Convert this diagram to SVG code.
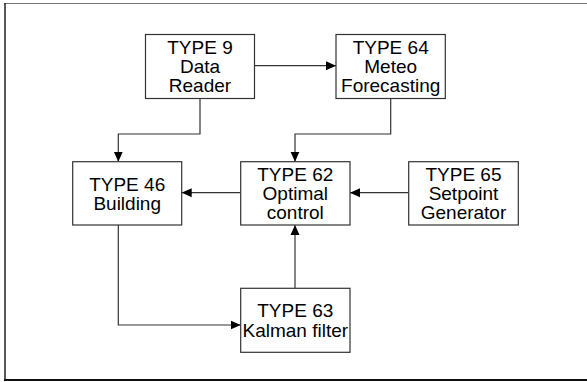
<svg xmlns="http://www.w3.org/2000/svg" width="587" height="382" viewBox="0 0 587 382">
<defs>
<style>
.box{fill:#fff;stroke:#333;stroke-width:1.2}
.lbl{font-family:"Liberation Sans",Arial,sans-serif;font-size:19px;fill:#000;text-anchor:middle}
.con{fill:none;stroke:#333;stroke-width:1.2}
</style>
<marker id="ah" markerUnits="userSpaceOnUse" markerWidth="10" markerHeight="10" viewBox="0 0 10 10" refX="10" refY="5" orient="auto">
<path d="M0,0.5 L10,5 L0,9.5 Z" fill="#000"/>
</marker>
</defs>
<rect x="0" y="0" width="587" height="382" fill="#fff"/>
<g id="frame">
<line x1="4" y1="3.5" x2="590" y2="3.5" stroke="#777" stroke-width="1.2"/>
<line x1="5" y1="3" x2="5" y2="380" stroke="#222" stroke-width="1.5"/>
<line x1="4" y1="380" x2="590" y2="380" stroke="#111" stroke-width="1.8"/>
</g>
<g id="connectors">
<line class="con" x1="254.7" y1="65.7" x2="336" y2="65.7" marker-end="url(#ah)"/>
<polyline class="con" points="200,98.3 200,134 118.3,134 118.3,161.7" marker-end="url(#ah)"/>
<polyline class="con" points="390.7,98.3 390.7,134 295,134 295,161.7" marker-end="url(#ah)"/>
<line class="con" x1="240.7" y1="192.7" x2="181.7" y2="192.7" marker-end="url(#ah)"/>
<line class="con" x1="408.7" y1="192.7" x2="350" y2="192.7" marker-end="url(#ah)"/>
<polyline class="con" points="118.3,225 118.3,325 240.7,325" marker-end="url(#ah)"/>
<line class="con" x1="295" y1="288.3" x2="295" y2="225" marker-end="url(#ah)"/>
</g>
<g id="type9">
<rect class="box" x="145.5" y="34.5" width="109" height="64"/>
<text class="lbl" x="200" y="54">TYPE 9</text>
<text class="lbl" x="200" y="73">Data</text>
<text class="lbl" x="200" y="92">Reader</text>
</g>
<g id="type64">
<rect class="box" x="336" y="34.5" width="109.3" height="64"/>
<text class="lbl" x="390.7" y="54">TYPE 64</text>
<text class="lbl" x="390.7" y="73">Meteo</text>
<text class="lbl" x="390.7" y="92">Forecasting</text>
</g>
<g id="type46">
<rect class="box" x="72.7" y="161.7" width="109" height="63.3"/>
<text class="lbl" x="127.2" y="190.5">TYPE 46</text>
<text class="lbl" x="127.2" y="209.5">Building</text>
</g>
<g id="type62">
<rect class="box" x="240.7" y="161.7" width="109.3" height="63.3"/>
<text class="lbl" x="295.3" y="181">TYPE 62</text>
<text class="lbl" x="295.3" y="200">Optimal</text>
<text class="lbl" x="295.3" y="219">control</text>
</g>
<g id="type65">
<rect class="box" x="408.7" y="161.7" width="109.6" height="63.3"/>
<text class="lbl" x="463.5" y="181">TYPE 65</text>
<text class="lbl" x="463.5" y="200">Setpoint</text>
<text class="lbl" x="463.5" y="219">Generator</text>
</g>
<g id="type63">
<rect class="box" x="240.7" y="288.3" width="109.3" height="64"/>
<text class="lbl" x="295.3" y="317">TYPE 63</text>
<text class="lbl" x="295.3" y="336.5">Kalman filter</text>
</g>
</svg>
